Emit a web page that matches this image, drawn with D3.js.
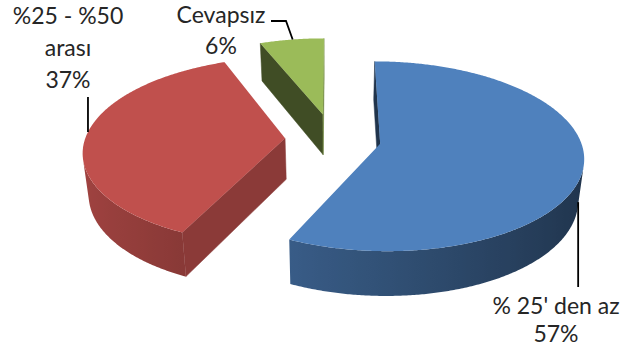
<!DOCTYPE html>
<html>
<head>
<meta charset="utf-8">
<script src="https://cdn.jsdelivr.net/npm/d3@7"></script>
<style>
  html, body { margin: 0; padding: 0; background: #ffffff; }
  svg { display: block; }
  text { font-family: Lato, "Open Sans", sans-serif; fill: #262626; }
</style>
</head>
<body>
<svg id="chart" width="625" height="354"></svg>
<script>
// ---- data ----
const categories = ["% 25' den az", "%25 - %50 arası", "Cevapsız"];
const values = [57, 37, 6];
const colors = ["#4F81BD", "#C0504D", "#9BBB59"];

// ---- 3D pie geometry ----
const cx = 333, cy = 139;           // vanishing centre of the pie plane
const persp = 0.13;                 // perspective strength (near side larger)
const bottomShrink = 0.976;         // bottom rim slightly smaller (camera above)
const thickness = 41;               // extrusion height in px
const explode = [0.24, 0.24, 0.28]; // radial offset of each slice (radius units)

const xScale = d3.scaleLinear().domain([-1, 1]).range([-200, 200]);
const yScale = d3.scaleLinear().domain([-1, 1]).range([-92, 92]);

// u: rightwards, v: towards the viewer; bottom=true gives the lower rim
function project(u, v, bottom) {
  const s = 1 / (1 - persp * v);
  const q = bottom ? bottomShrink : 1;
  return [cx + xScale(u) * s * q,
          cy + yScale(v) * s * q + (bottom ? thickness * s : 0)];
}

const arcs = d3.pie().sort(null).value(d => d)(values).map((a, i) => {
  const mid = (a.startAngle + a.endAngle) / 2;
  const e = explode[i];
  return { ...a, i, mid, u0: e * Math.sin(mid), v0: -e * Math.cos(mid) };
});

function rim(a, theta, bottom) {
  return project(a.u0 + Math.sin(theta), a.v0 - Math.cos(theta), bottom);
}
function apex(a, bottom) { return project(a.u0, a.v0, bottom); }

function signedArea(pts) {
  let s = 0;
  for (let j = 0; j < pts.length; j++) {
    const p = pts[j], q = pts[(j + 1) % pts.length];
    s += p[0] * q[1] - q[0] * p[1];
  }
  return s / 2;
}
function shade(color, f) {
  const c = d3.rgb(color);
  return d3.rgb(c.r * f, c.g * f, c.b * f).formatHex();
}
// curved outer wall lit from the left, flat cut walls lit from the right
const wallShade = theta => 0.62 + 0.22 * (-Math.sin(theta));
const cutShade = normal => 0.57 + 0.17 * Math.sin(normal);

const svg = d3.select("#chart");
const defs = svg.append("defs");
const line = d3.line().curve(d3.curveLinearClosed);
const g = svg.append("g");

const order = arcs.slice().sort((a, b) => a.v0 - b.v0);
order.forEach(a => {
  const sg = g.append("g");
  const color = colors[a.i];
  const step = Math.PI / 360;
  const n = Math.max(2, Math.ceil((a.endAngle - a.startAngle) / step));
  const thetas = d3.range(n + 1).map(j => a.startAngle + (a.endAngle - a.startAngle) * j / n);

  // flat cut faces along the two radii
  const cut0 = [apex(a, false), rim(a, a.startAngle, false), rim(a, a.startAngle, true), apex(a, true)];
  const cut1 = [rim(a, a.endAngle, false), apex(a, false), apex(a, true), rim(a, a.endAngle, true)];
  [[cut0, a.startAngle - Math.PI / 2], [cut1, a.endAngle + Math.PI / 2]].forEach(([pts, normal]) => {
    if (signedArea(pts) < 0) {
      const c = shade(color, cutShade(normal));
      sg.append("path").attr("d", line(pts)).attr("fill", c)
        .attr("stroke", c).attr("stroke-width", 0.5).attr("stroke-linejoin", "round");
    }
  });

  // outer curved wall: the run of front-facing segments as one shape
  const visible = [];
  for (let j = 0; j < n; j++) {
    const t0 = thetas[j], t1 = thetas[j + 1];
    const quad = [rim(a, t0, false), rim(a, t1, false), rim(a, t1, true), rim(a, t0, true)];
    if (signedArea(quad) < 0) visible.push(j);
  }
  if (visible.length) {
    const ts = thetas.slice(visible[0], visible[visible.length - 1] + 2);
    const wall = ts.map(t => rim(a, t, false)).concat(ts.slice().reverse().map(t => rim(a, t, true)));
    const samples = ts.map(t => ({ x: rim(a, t, false)[0], c: shade(color, wallShade(t)) }))
      .sort((p, q) => p.x - q.x);
    const x0 = samples[0].x, x1 = samples[samples.length - 1].x;
    const gid = "wall" + a.i;
    const grad = defs.append("linearGradient").attr("id", gid)
      .attr("gradientUnits", "userSpaceOnUse")
      .attr("x1", x0).attr("x2", x1).attr("y1", 0).attr("y2", 0);
    samples.filter((p, j) => j % 4 === 0 || j === samples.length - 1).forEach(p => {
      grad.append("stop").attr("offset", x1 > x0 ? (p.x - x0) / (x1 - x0) : 0).attr("stop-color", p.c);
    });
    sg.append("path").attr("d", line(wall)).attr("fill", `url(#${gid})`);
  }

  // top face
  const top = [apex(a, false)].concat(thetas.map(t => rim(a, t, false)));
  sg.append("path").attr("d", line(top)).attr("fill", color);
});

// ---- labels ----
const fmt = v => d3.format("d")(v) + "%";
const labelLayout = [
  { x: 556, y: 314, gap: 28, wrap: false, lead: 100, leadBottom: true, from: [[577, 287]] },
  { x: 68, y: 24, gap: 32, wrap: true, lead: 274, leadBottom: false, from: [[89, 97]] },
  { x: 221, y: 23, gap: 31, wrap: false, lead: 349.5, leadBottom: false, from: [[271, 21], [286, 21]] }
];

arcs.forEach(a => {
  const L = labelLayout[a.i];
  let lines = [categories[a.i]];
  if (L.wrap) {
    const k = categories[a.i].lastIndexOf(" ");
    lines = [categories[a.i].slice(0, k), categories[a.i].slice(k + 1)];
  }
  lines.push(fmt(values[a.i]));
  const t = svg.append("text").attr("text-anchor", "middle").attr("font-size", 23);
  lines.forEach((s, j) => t.append("tspan").attr("x", L.x).attr("y", L.y + j * L.gap).text(s));

  const end = rim(a, L.lead * Math.PI / 180, L.leadBottom);
  const pts = L.from.slice();
  if (L.from.length === 1) pts[0] = [end[0], L.from[0][1]];
  pts.push(end);
  svg.append("path").attr("d", d3.line()(pts)).attr("fill", "none")
    .attr("stroke", "#000").attr("stroke-width", 1.8);
});
</script>
</body>
</html>
